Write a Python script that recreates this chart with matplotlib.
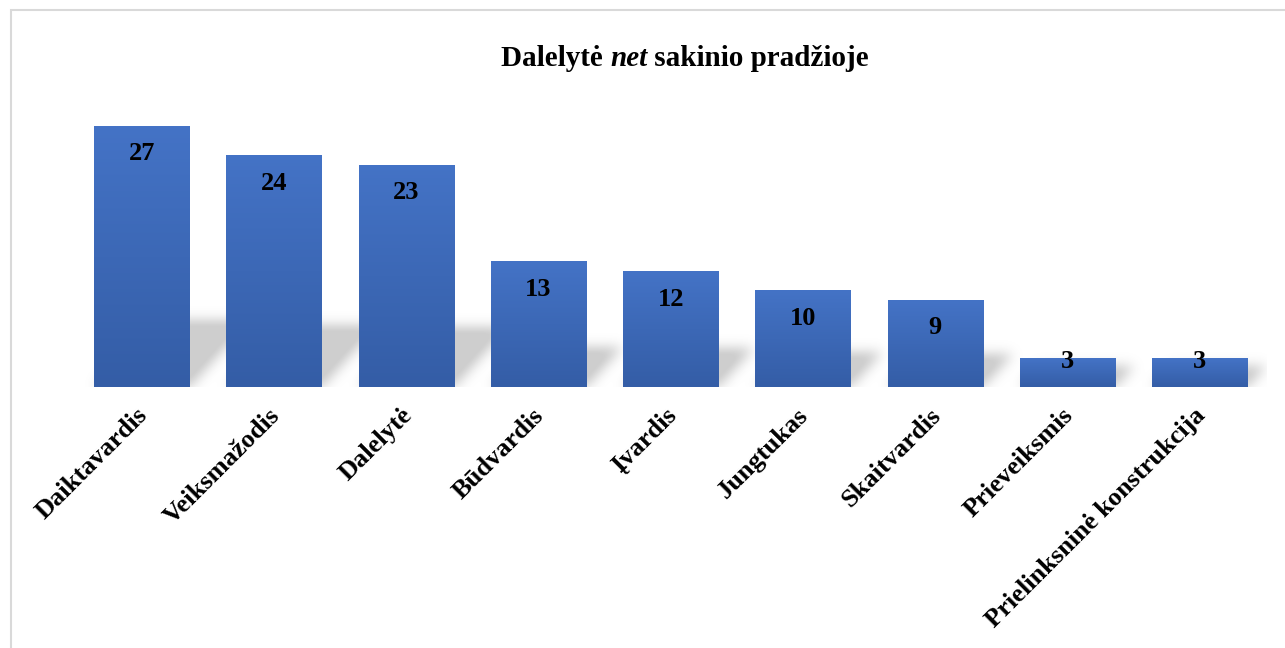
import numpy as np
import matplotlib
matplotlib.use("Agg")
import matplotlib.pyplot as plt
from matplotlib.patches import Rectangle
from matplotlib.transforms import ScaledTranslation

categories = ["Daiktavardis", "Veiksmažodis", "Dalelytė", "Būdvardis", "Įvardis",
              "Jungtukas", "Skaitvardis", "Prieveiksmis", "Prielinksninė konstrukcija"]
values = [27, 24, 23, 13, 12, 10, 9, 3, 3]

plt.rcParams['font.family'] = ['Liberation Serif', 'DejaVu Serif']

W, H = 1285, 648
fig = plt.figure(figsize=(W / 100, H / 100), dpi=100)
ax = fig.add_axes([75.5 / W, 1 - 387 / H, (1266 - 75.5) / W, (387 - 97) / H])
ax.set_xlim(-0.5, len(values) - 0.5)
ax.set_ylim(0, 30)

# pixels per data unit, used for the shadow and the label offsets
xpx = (1266 - 75.5) / len(values)
ypx = (387 - 97) / 30.0

x = np.arange(len(values))
bars = ax.bar(x, values, width=0.72, color="none", edgecolor="none", zorder=3)

# soft perspective shadow behind the bars
nx, ny = 1190, 290
gx = np.linspace(-0.5, len(values) - 0.5, nx)
gy = np.linspace(0, 30, ny)
GX, GY = np.meshgrid(gx, gy)
mask = np.zeros_like(GX)
for b, v in zip(bars, values):
    sh = (0.2 * v * ypx + 15) / ypx
    dx = 0.9 * sh * ypx / xpx
    t = GY / sh
    left = b.get_x() + t * dx
    inside = (t <= 1) & (GX >= left) & (GX <= left + b.get_width())
    mask[inside] = 1.0


def blur(a, sigma, axis):
    r = int(3 * sigma)
    k = np.exp(-0.5 * (np.arange(-r, r + 1) / sigma) ** 2)
    k /= k.sum()
    return np.apply_along_axis(lambda m: np.convolve(m, k, mode="same"), axis, a)


mask = blur(blur(mask, 6.0, 0), 6.0, 1)
shadow = np.zeros((ny, nx, 4))
shadow[..., :3] = 0.55
shadow[..., 3] = np.clip(mask * 0.5, 0, 0.42)
ax.imshow(shadow, extent=(-0.5, len(values) - 0.5, 0, 30), origin="lower",
          aspect="auto", zorder=1, interpolation="bilinear")

# vertical gradient fill for each bar
top = np.array([68, 115, 198]) / 255
bottom = np.array([52, 93, 166]) / 255
grad = np.linspace(0, 1, 256)[:, None, None]
grad_img = bottom + (top - bottom) * grad
for b in bars:
    im = ax.imshow(grad_img, extent=(b.get_x(), b.get_x() + b.get_width(), 0, b.get_height()),
                   origin="lower", aspect="auto", zorder=2)
    im.set_clip_path(b)

ax.set_xlim(-0.5, len(values) - 0.5)
ax.set_ylim(0, 30)

for b, v in zip(bars, values):
    off = -28 if v * ypx > 60 else -4
    ax.annotate(str(v), (b.get_x() + b.get_width() / 2, v), xytext=(0, off),
                textcoords="offset pixels", ha="center", va="center",
                fontsize=19, fontweight="bold", zorder=4)

ax.set_xticks(x)
ax.set_xticklabels(categories, rotation=45, ha="right", va="top",
                   rotation_mode="anchor", fontsize=19, fontweight="bold")
ax.tick_params(axis="x", length=0, pad=12)
shift = ScaledTranslation(-6 / 100, 0, fig.dpi_scale_trans)
for lbl in ax.get_xticklabels():
    lbl.set_transform(lbl.get_transform() + shift)
ax.set_yticks([])
for s in ax.spines.values():
    s.set_visible(False)

# title with the particle in italics
fig.canvas.draw()
r = fig.canvas.get_renderer()
parts = [("Dalelytė ", "normal"), ("net", "italic"), (" sakinio pradžioje", "normal")]
texts = [fig.text(0, 1 - 59 / H, s, fontsize=21, fontweight="bold", style=st, va="center")
         for s, st in parts]
widths = [t.get_window_extent(r).width for t in texts]
xpos = 685 - sum(widths) / 2
for t, w in zip(texts, widths):
    t.set_x(xpos / W)
    xpos += w

# chart area border
fig.patches.append(Rectangle((10.5 / W, -0.1), 1.2, 1 - 10.5 / H + 0.1, transform=fig.transFigure,
                             fill=False, edgecolor="#d9d9d9", linewidth=1.5))

fig.savefig("out.png", dpi=100)
